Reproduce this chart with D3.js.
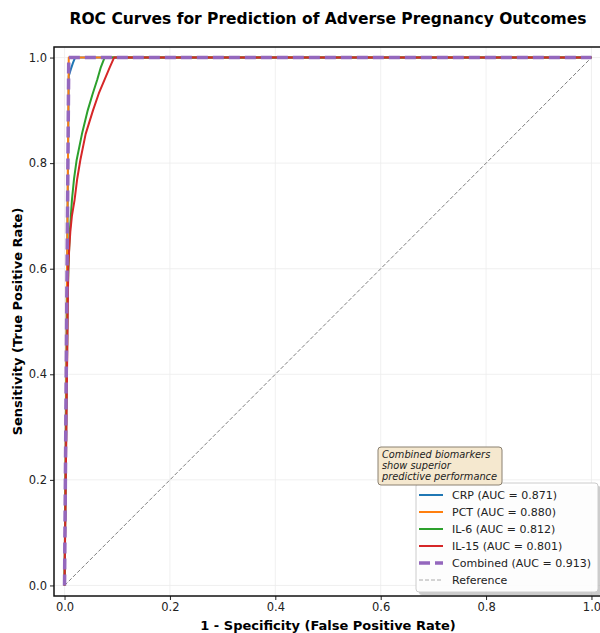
<!DOCTYPE html>
<html>
<head>
<meta charset="utf-8">
<script src="https://cdn.jsdelivr.net/npm/d3@7"></script>
<style>
    body { margin: 0; background: #fff; }
    text { font-family: "DejaVu Sans", sans-serif; }
</style>
</head>
<body>
<div id="roc"></div>
<script>
const graphSize = { width: 600, height: 633 };
const padding = { top: 47, right: -2, bottom: 37, left: 54 };

const graphEastWest = graphSize.width - padding.left - padding.right;
const graphNorthSouth = graphSize.height - padding.top - padding.bottom;

// curve points: [fpr, tpr]
const crpPoints = [[0, 0], [0.004, 0.5], [0.007, 0.85], [0.008, 0.965], [0.012, 0.978], [0.016, 0.99], [0.02, 1.0], [1, 1]];
const pctPoints = [[0, 0], [0.004, 0.5], [0.008, 1.0], [1, 1]];
const il6Points = [[0, 0], [0.006, 0.55], [0.008, 0.62], [0.010, 0.67], [0.014, 0.73], [0.018, 0.77], [0.023, 0.806],
    [0.033, 0.855], [0.044, 0.90], [0.053, 0.93], [0.062, 0.958], [0.069, 0.982], [0.076, 1.0], [1, 1]];
const il15Points = [[0, 0], [0.007, 0.6], [0.009, 0.64], [0.011, 0.67], [0.014, 0.70], [0.019, 0.73], [0.024, 0.77],
    [0.030, 0.806], [0.040, 0.855], [0.054, 0.90], [0.065, 0.932], [0.076, 0.958], [0.086, 0.982], [0.094, 1.0], [1, 1]];
const combinedPoints = [[0, 0], [0.004, 0.5], [0.008, 1.0], [1, 1]];
const referencePoints = [[0, 0], [1, 1]];

const seriesNames = ['CRP', 'PCT', 'IL-6', 'IL-15', 'Combined'];
const aucValues = [0.871, 0.880, 0.812, 0.801, 0.913];
const tickValues = [0, 0.2, 0.4, 0.6, 0.8, 1.0];

const curves = [
    { name: seriesNames[0], auc: aucValues[0], points: crpPoints, color: '#1f77b4', width: 2, dash: null },
    { name: seriesNames[1], auc: aucValues[1], points: pctPoints, color: '#ff7f0e', width: 2, dash: null },
    { name: seriesNames[2], auc: aucValues[2], points: il6Points, color: '#2ca02c', width: 2, dash: null },
    { name: seriesNames[3], auc: aucValues[3], points: il15Points, color: '#d62728', width: 2, dash: null },
    { name: seriesNames[4], auc: aucValues[4], points: combinedPoints, color: '#9467bd', width: 3.5, dash: '11,5' }
];

const attach = d3.select('#roc')
    .append('svg')
    .attr('width', graphSize.width)
    .attr('height', graphSize.height);

const graph = attach.append('g')
    .attr('transform', `translate(${padding.left}, ${padding.top})`);

const x = d3.scaleLinear().domain([-0.02, 1.02]).range([0, graphEastWest]);
const y = d3.scaleLinear().domain([-0.02, 1.02]).range([graphNorthSouth, 0]);

// grid
graph.append('g')
    .selectAll('line.gx')
    .data(tickValues)
    .enter()
    .append('line')
        .attr('x1', d => x(d)).attr('x2', d => x(d))
        .attr('y1', 0).attr('y2', graphNorthSouth)
        .attr('stroke', '#ececec').attr('stroke-width', 0.8);

graph.append('g')
    .selectAll('line.gy')
    .data(tickValues)
    .enter()
    .append('line')
        .attr('y1', d => y(d)).attr('y2', d => y(d))
        .attr('x1', 0).attr('x2', graphEastWest)
        .attr('stroke', '#ececec').attr('stroke-width', 0.8);

// axes
const GroupX = graph.append('g')
    .attr('transform', `translate(0, ${graphNorthSouth})`)
    .call(d3.axisBottom(x).tickValues(tickValues).tickFormat(d3.format('.1f')).tickSize(4).tickPadding(3));

const GroupY = graph.append('g')
    .call(d3.axisLeft(y).tickValues(tickValues).tickFormat(d3.format('.1f')).tickSize(4).tickPadding(3));

[GroupX, GroupY].forEach(g => {
    g.select('.domain').remove();
    g.selectAll('text').attr('font-size', 11.5).attr('fill', '#222').attr('font-family', 'DejaVu Sans');
    g.selectAll('line').attr('stroke', '#222');
});

const line = d3.line().x(d => x(d[0])).y(d => y(d[1]));

graph.append('path')
    .attr('d', line(referencePoints))
    .attr('fill', 'none')
    .attr('stroke', '#808080')
    .attr('stroke-width', 1)
    .attr('stroke-dasharray', '4,2');

curves.forEach(c => {
    graph.append('path')
        .attr('d', line(c.points))
        .attr('fill', 'none')
        .attr('stroke', c.color)
        .attr('stroke-width', c.width)
        .attr('stroke-dasharray', c.dash)
        .attr('stroke-linejoin', 'round');
});

// frame
graph.append('rect')
    .attr('width', graphEastWest)
    .attr('height', graphNorthSouth)
    .attr('fill', 'none')
    .attr('stroke', '#111')
    .attr('stroke-width', 1.5);

// titles
attach.append('text')
    .attr('x', padding.left + graphEastWest / 2)
    .attr('y', 24)
    .attr('text-anchor', 'middle')
    .attr('font-size', 15.5)
    .attr('font-weight', 'bold')
    .text('ROC Curves for Prediction of Adverse Pregnancy Outcomes');

attach.append('text')
    .attr('x', padding.left + graphEastWest / 2)
    .attr('y', 630)
    .attr('text-anchor', 'middle')
    .attr('font-size', 13)
    .attr('font-weight', 'bold')
    .text('1 - Specificity (False Positive Rate)');

attach.append('text')
    .attr('transform', `translate(22, ${padding.top + y(0.5)}) rotate(-90)`)
    .attr('text-anchor', 'middle')
    .attr('font-size', 13)
    .attr('font-weight', 'bold')
    .text('Sensitivity (True Positive Rate)');

// legend
const legendItems = curves.map(c => ({ label: `${c.name} (AUC = ${c.auc.toFixed(3)})`, color: c.color, width: c.width, dash: c.dash }))
    .concat([{ label: 'Reference', color: '#aaa', width: 1, dash: '4,2' }]);

const legend = attach.append('g').attr('transform', 'translate(416, 483)');

legend.append('rect')
    .attr('x', 3).attr('y', 3)
    .attr('width', 182).attr('height', 109)
    .attr('rx', 3)
    .attr('fill', '#999').attr('opacity', 0.5);

legend.append('rect')
    .attr('width', 182).attr('height', 109)
    .attr('rx', 3)
    .attr('fill', '#fff').attr('fill-opacity', 0.95)
    .attr('stroke', '#ccc');

legendItems.forEach((item, i) => {
    const rowY = 12 + i * 17;
    legend.append('line')
        .attr('x1', 3).attr('x2', 27)
        .attr('y1', rowY).attr('y2', rowY)
        .attr('stroke', item.color)
        .attr('stroke-width', item.width)
        .attr('stroke-dasharray', item.dash);
    legend.append('text')
        .attr('x', 36).attr('y', rowY + 4)
        .attr('font-size', 11)
        .attr('fill', '#222')
        .text(item.label);
});

// annotation
const note = attach.append('g').attr('transform', 'translate(378, 447)');

note.append('rect')
    .attr('width', 124).attr('height', 38)
    .attr('rx', 3)
    .attr('fill', '#f5e8cf')
    .attr('stroke', '#8a8070');

['Combined biomarkers', 'show superior', 'predictive performance'].forEach((t, i) => {
    note.append('text')
        .attr('x', 4).attr('y', 11 + i * 11)
        .attr('font-size', 9.8)
        .attr('font-style', 'italic')
        .attr('fill', '#222')
        .text(t);
});
</script>
</body>
</html>
